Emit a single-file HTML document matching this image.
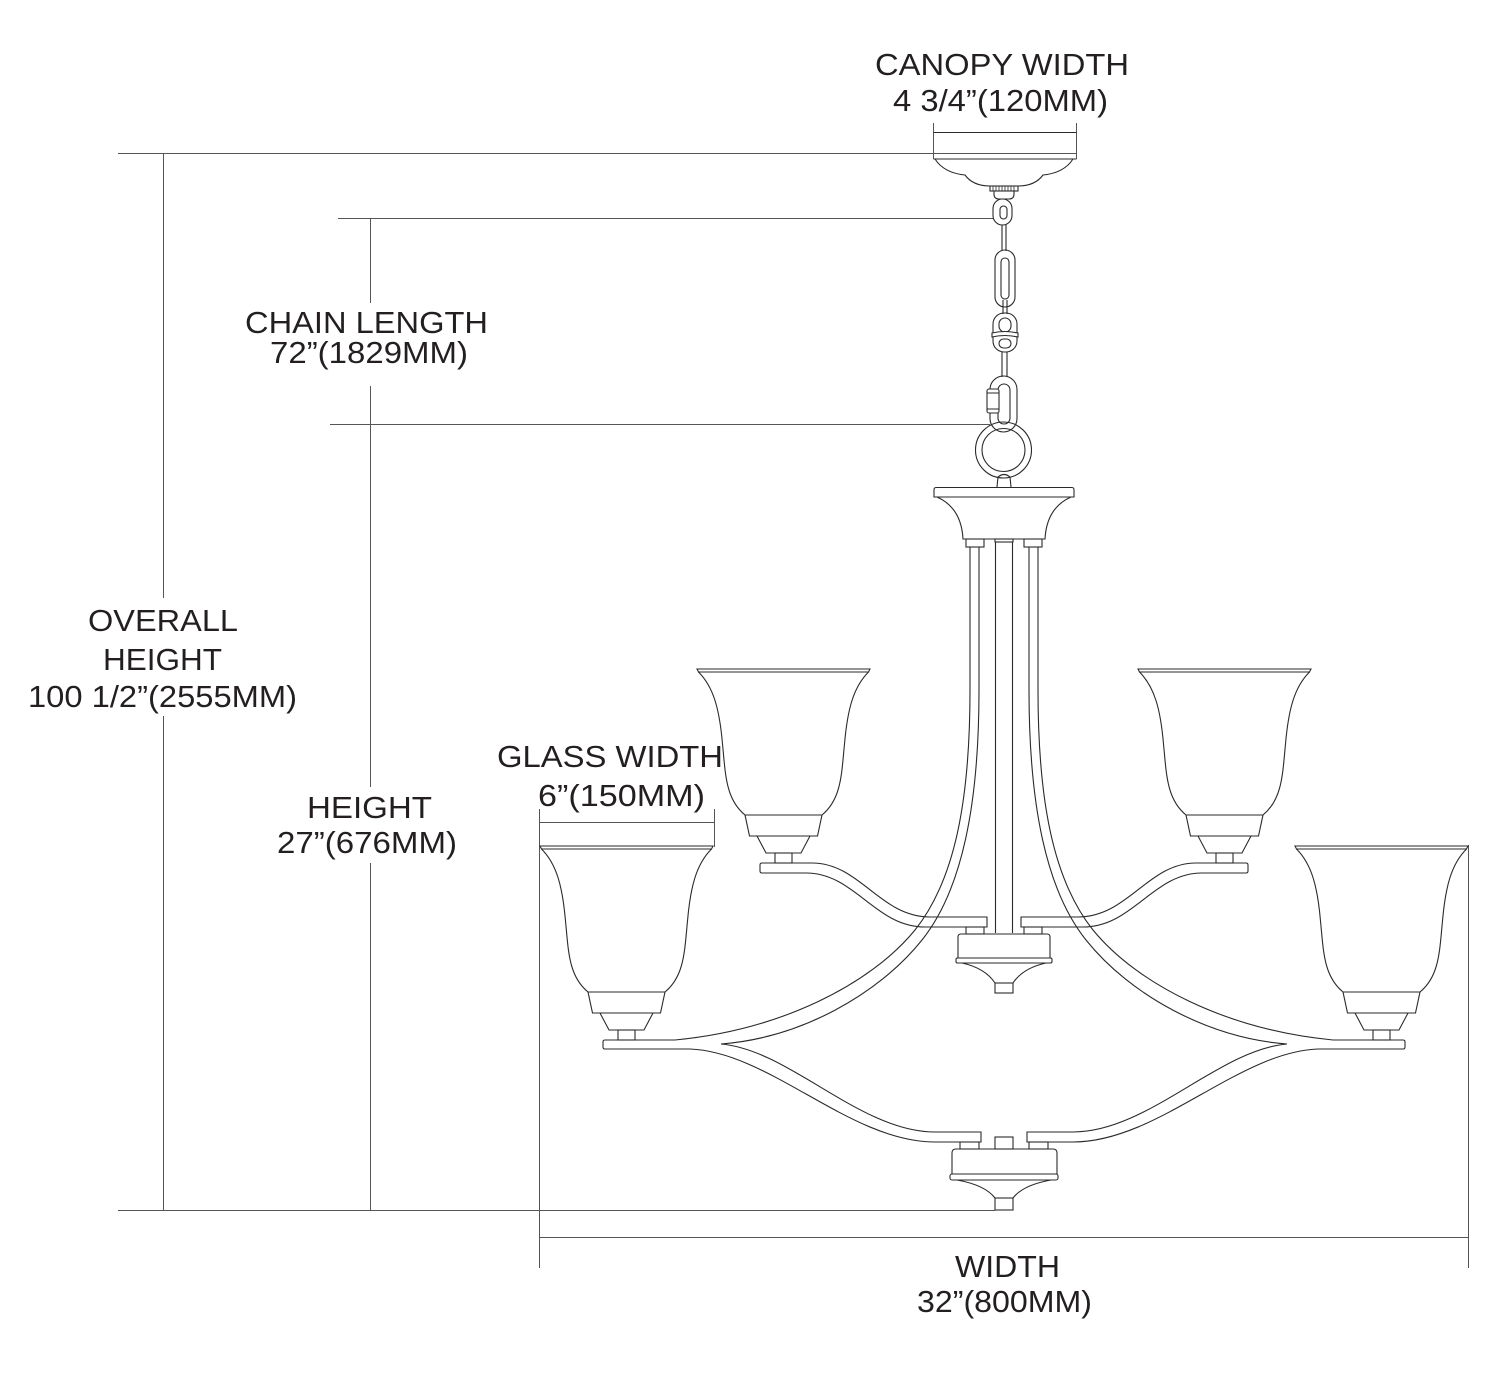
<!DOCTYPE html>
<html><head><meta charset="utf-8"><style>
html,body{margin:0;padding:0;background:#fff;}
svg{display:block;}
text{font-family:"Liberation Sans",Arial,sans-serif;font-size:31px;fill:#231f20;}
</style></head><body>
<svg width="1500" height="1373" viewBox="0 0 1500 1373" xmlns="http://www.w3.org/2000/svg">
<rect width="1500" height="1373" fill="#fff"/>

<!-- dimension lines -->
<g stroke="#555" stroke-width="1" fill="none">
 <path d="M118,153.5H1076"/>
 <path d="M163.5,153V598M163.5,716V1210"/>
 <path d="M118,1210.5H995"/>
 <path d="M338,218.5H993"/>
 <path d="M330,424.5H990"/>
 <path d="M370.5,218V303M370.5,386V787M370.5,863V1210"/>
 <path d="M539.5,809V1268M714.5,809V847"/>
 <path d="M539,822.5H714"/>
 <path d="M1468.5,845V1268"/>
 <path d="M539,1237.5H1468"/>
 <path d="M933.5,123V159M1076.5,123V159"/>
</g>

<!-- drawing -->
<g stroke="#2a2a2a" stroke-width="1.1" fill="none">
 <!-- canopy -->
 <path d="M933.5,132.5H1076.5M933.5,159H1076.5"/>
 <path d="M935,159Q944,173 965,175Q973,186 990,186H1018Q1035,186 1043,175Q1064,173 1073,159"/>
 <rect x="990" y="186" width="28" height="5"/>
 <path d="M993,186v5M996,186v5M999,186v5M1002,186v5M1005,186v5M1008,186v5M1011,186v5M1014,186v5" stroke-width="0.8"/>
 <path d="M994,191v3q0,5 5,5h10q5,0 5,-5v-3"/>
 <!-- chain -->
 <rect x="993" y="199" width="19" height="26" rx="9.5"/>
 <rect x="1000" y="206" width="7" height="13" rx="3.5"/>
 <path d="M1002,225V251M1006,225V251"/>
 <rect x="995" y="250" width="20" height="57" rx="10"/>
 <rect x="1001" y="258" width="8" height="41" rx="4"/>
 <path d="M1003,300V314M1007,300V314"/>
 <rect x="993" y="313" width="24" height="39" rx="11"/>
 <rect x="999" y="318" width="12" height="14" rx="6"/>
 <rect x="999" y="339" width="12" height="9" rx="4.5"/>
 <path d="M992,333Q1005,330 1018,333V337Q1005,334 992,337Z" fill="#fff"/>
 <path d="M1002,352V377M1007,352V377"/>
 <!-- ring -->
 <circle cx="1003.5" cy="450" r="28"/>
 <circle cx="1003.5" cy="450" r="21.5"/>
 <!-- carabiner -->
 <rect x="990" y="376" width="27" height="56" rx="13.5"/>
 <rect x="998" y="384" width="12" height="40" rx="6"/>
 <rect x="987" y="389" width="12" height="24" rx="2" fill="#fff"/>
 <path d="M987,393H999M987,409H999"/>
 <path d="M997,487L998,477Q1004,472 1010,477L1011,487"/>
 <!-- top plate -->
 <path d="M936,487.5H1072Q1074,487.5 1074,490V497H934V490Q934,487.5 936,487.5Z"/>
 <path d="M937,497C955,505 962,520 963,539H1045C1046,520 1053,505 1071,497"/>
 <rect x="966" y="539" width="18" height="8"/>
 <rect x="1024" y="539" width="18" height="8"/>
 <rect x="995" y="539" width="18" height="3"/>
 <path d="M995.5,542V933M1012.5,542V933"/>
 <!-- upper hub -->
 <path d="M961,934H1047Q1050,934 1050,937V958H958V937Q958,934 961,934Z"/>
 <rect x="956" y="958" width="96" height="5" rx="1.5"/>
 <path d="M962,963Q985,968 995,983H1013Q1023,968 1046,963"/>
 <rect x="995" y="983" width="18" height="10"/>
 <!-- lower hub -->
 <rect x="995" y="1137" width="18" height="12"/>
 <path d="M956,1149H1053Q1057,1149 1057,1153V1174H952V1153Q952,1149 956,1149Z"/>
 <rect x="950" y="1174" width="108" height="6" rx="2"/>
 <path d="M957,1180Q985,1185 995,1198H1013Q1023,1185 1051,1180"/>
 <rect x="995" y="1198" width="18" height="12"/>

 <!-- left half -->
 <g>
  <g transform="translate(783.5,669)">
   <path d="M-86.5,0H86.5L85,3H-85Z"/>
   <path d="M-85,3C-70,18 -64,40 -61,75C-58,105 -58,130 -38.5,146"/>
   <path d="M85,3C70,18 64,40 61,75C58,105 58,130 38.5,146"/>
   <path d="M-38.5,146H38.5L34,167H-34Z"/>
   <path d="M-26.5,167L-17.5,184H17.5L26.5,167"/>
   <rect x="-8.5" y="184" width="17" height="10"/>
  </g>
  <g transform="translate(626.5,846)">
   <path d="M-86.5,0H86.5L85,3H-85Z"/>
   <path d="M-85,3C-70,18 -64,40 -61,75C-58,105 -58,130 -38.5,146"/>
   <path d="M85,3C70,18 64,40 61,75C58,105 58,130 38.5,146"/>
   <path d="M-38.5,146H38.5L34,167H-34Z"/>
   <path d="M-26.5,167L-17.5,184H17.5L26.5,167"/>
   <rect x="-8.5" y="184" width="17" height="10"/>
  </g>
  <path d="M762,863H812C860,863 880,917 930,917H987V927H925C875,927 855,873 806,873H762Q760,873 760,871V865Q760,863 762,863Z"/>
  <rect x="966" y="927" width="18" height="7"/>
  <path d="M970,547V690C970,800 955,880 915,930C870,985 780,1030 675,1040"/>
  <path d="M979,547V690C979,805 962,890 922,940C878,995 800,1038 721,1044"/>
  <path d="M675,1040H605Q603,1040 603,1042V1047Q603,1049 605,1049H690C770,1052 850,1142 935,1142H981V1132H935C860,1132 790,1050 721,1044"/>
  <rect x="960" y="1142" width="19" height="7"/>
 </g>

 <!-- right half (mirror) -->
 <g transform="matrix(-1,0,0,1,2008,0)">
  <g transform="translate(783.5,669)">
   <path d="M-86.5,0H86.5L85,3H-85Z"/>
   <path d="M-85,3C-70,18 -64,40 -61,75C-58,105 -58,130 -38.5,146"/>
   <path d="M85,3C70,18 64,40 61,75C58,105 58,130 38.5,146"/>
   <path d="M-38.5,146H38.5L34,167H-34Z"/>
   <path d="M-26.5,167L-17.5,184H17.5L26.5,167"/>
   <rect x="-8.5" y="184" width="17" height="10"/>
  </g>
  <g transform="translate(626.5,846)">
   <path d="M-86.5,0H86.5L85,3H-85Z"/>
   <path d="M-85,3C-70,18 -64,40 -61,75C-58,105 -58,130 -38.5,146"/>
   <path d="M85,3C70,18 64,40 61,75C58,105 58,130 38.5,146"/>
   <path d="M-38.5,146H38.5L34,167H-34Z"/>
   <path d="M-26.5,167L-17.5,184H17.5L26.5,167"/>
   <rect x="-8.5" y="184" width="17" height="10"/>
  </g>
  <path d="M762,863H812C860,863 880,917 930,917H987V927H925C875,927 855,873 806,873H762Q760,873 760,871V865Q760,863 762,863Z"/>
  <rect x="966" y="927" width="18" height="7"/>
  <path d="M970,547V690C970,800 955,880 915,930C870,985 780,1030 675,1040"/>
  <path d="M979,547V690C979,805 962,890 922,940C878,995 800,1038 721,1044"/>
  <path d="M675,1040H605Q603,1040 603,1042V1047Q603,1049 605,1049H690C770,1052 850,1142 935,1142H981V1132H935C860,1132 790,1050 721,1044"/>
  <rect x="960" y="1142" width="19" height="7"/>
 </g>
</g>

<!-- labels -->
<text x="875" y="75" textLength="254" lengthAdjust="spacingAndGlyphs">CANOPY WIDTH</text>
<text x="893" y="111" textLength="215" lengthAdjust="spacingAndGlyphs">4 3/4”(120MM)</text>
<text x="245" y="333" textLength="243" lengthAdjust="spacingAndGlyphs">CHAIN LENGTH</text>
<text x="270" y="363" textLength="198" lengthAdjust="spacingAndGlyphs">72”(1829MM)</text>
<text x="88" y="631" textLength="150" lengthAdjust="spacingAndGlyphs">OVERALL</text>
<text x="103" y="670" textLength="119" lengthAdjust="spacingAndGlyphs">HEIGHT</text>
<text x="28" y="707" textLength="269" lengthAdjust="spacingAndGlyphs">100 1/2”(2555MM)</text>
<text x="497" y="767" textLength="226" lengthAdjust="spacingAndGlyphs">GLASS WIDTH</text>
<text x="538" y="806" textLength="167" lengthAdjust="spacingAndGlyphs">6”(150MM)</text>
<text x="307" y="818" textLength="125" lengthAdjust="spacingAndGlyphs">HEIGHT</text>
<text x="277" y="853" textLength="180" lengthAdjust="spacingAndGlyphs">27”(676MM)</text>
<text x="955" y="1277" textLength="105" lengthAdjust="spacingAndGlyphs">WIDTH</text>
<text x="917" y="1312" textLength="175" lengthAdjust="spacingAndGlyphs">32”(800MM)</text>
</svg>
</body></html>
